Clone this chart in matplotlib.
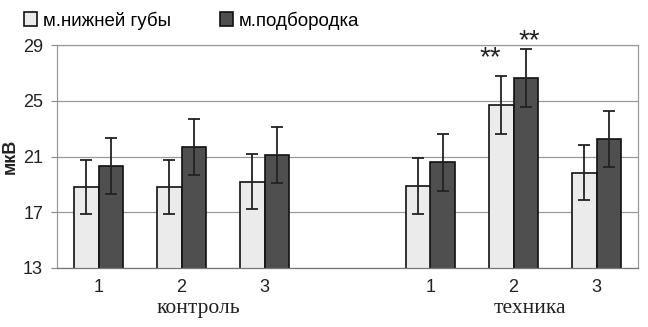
import matplotlib
matplotlib.use("Agg")
import matplotlib.pyplot as plt
import numpy as np

plt.rcParams["font.family"] = ["Liberation Sans", "DejaVu Sans"]

groups = ["контроль", "техника"]
sub_labels = ["1", "2", "3", "1", "2", "3"]
series_names = ["м.нижней губы", "м.подбородка"]
lip_mean = [18.8, 18.8, 19.2, 18.9, 24.7, 19.85]
lip_err = [1.95, 1.95, 1.98, 2.0, 2.05, 2.0]
chin_mean = [20.3, 21.7, 21.1, 20.6, 26.65, 22.25]
chin_err = [2.0, 2.0, 2.0, 2.05, 2.07, 2.0]
signif = ["", "", "", "", "**", ""]
yticks = [13, 17, 21, 25, 29]

positions = np.array([0, 1, 2, 4, 5, 6])
w = 0.29

fig = plt.figure(figsize=(6.48, 3.27), dpi=100)
ax = fig.add_axes([57/648, 1 - 268/327, (638-57)/648, (268-45)/327])

ax.set_axisbelow(True)
ax.yaxis.grid(True, color="#9a9a9a", linewidth=0.9)
ek = dict(ecolor="#222222", elinewidth=1.3, capsize=4, capthick=1.3)
ax.bar(positions - w/2, lip_mean, w, color="#ebebeb", edgecolor="#111111",
       linewidth=1.2, yerr=lip_err, error_kw=ek, label=series_names[0])
ax.bar(positions + w/2, chin_mean, w, color="#4f4f4f", edgecolor="#111111",
       linewidth=1.2, yerr=chin_err, error_kw=ek, label=series_names[1])

for p, m, e, s in zip(positions, lip_mean, lip_err, signif):
    if s:
        ax.text(p - w/2 - 0.13, m + e + 0.35, s, ha="center", va="bottom",
                fontsize=20, color="#222222")
for p, m, e, s in zip(positions, chin_mean, chin_err, signif):
    if s:
        ax.text(p + w/2 + 0.04, m + e - 0.35, s, ha="center", va="bottom",
                fontsize=20, color="#222222")

ax.set_ylim(13, 29)
ax.set_xlim(-0.5, 6.5)
ax.set_yticks(yticks)
ax.set_yticklabels([str(t) for t in yticks], fontsize=13, color="#222222")
ax.tick_params(axis="y", length=4, color="#888888", pad=6)
ax.set_xticks(positions)
ax.set_xticklabels(sub_labels, fontsize=13, color="#222222")
ax.tick_params(axis="x", length=0, pad=8)
for sp in ax.spines.values():
    sp.set_color("#9a9a9a")
    sp.set_linewidth(0.9)
ax.spines["bottom"].set_color("#777777")

ax.set_ylabel("мкВ", fontsize=13, fontweight="bold", labelpad=3, color="#222222")

for gi, g in enumerate(groups):
    cx = positions[gi*3 + 1]
    ax.text(cx + 0.2, -0.14, g, transform=ax.get_xaxis_transform(), ha="center", va="top",
            fontsize=15.5, family="Liberation Serif", color="#222222")

leg = fig.legend(loc="upper left", bbox_to_anchor=(0.02, 1.0), ncol=2, frameon=False,
                 fontsize=13.5, handlelength=0.7, handleheight=0.7, handletextpad=0.3,
                 columnspacing=2.6, borderaxespad=0.2)

fig.savefig("out.png", dpi=100)
